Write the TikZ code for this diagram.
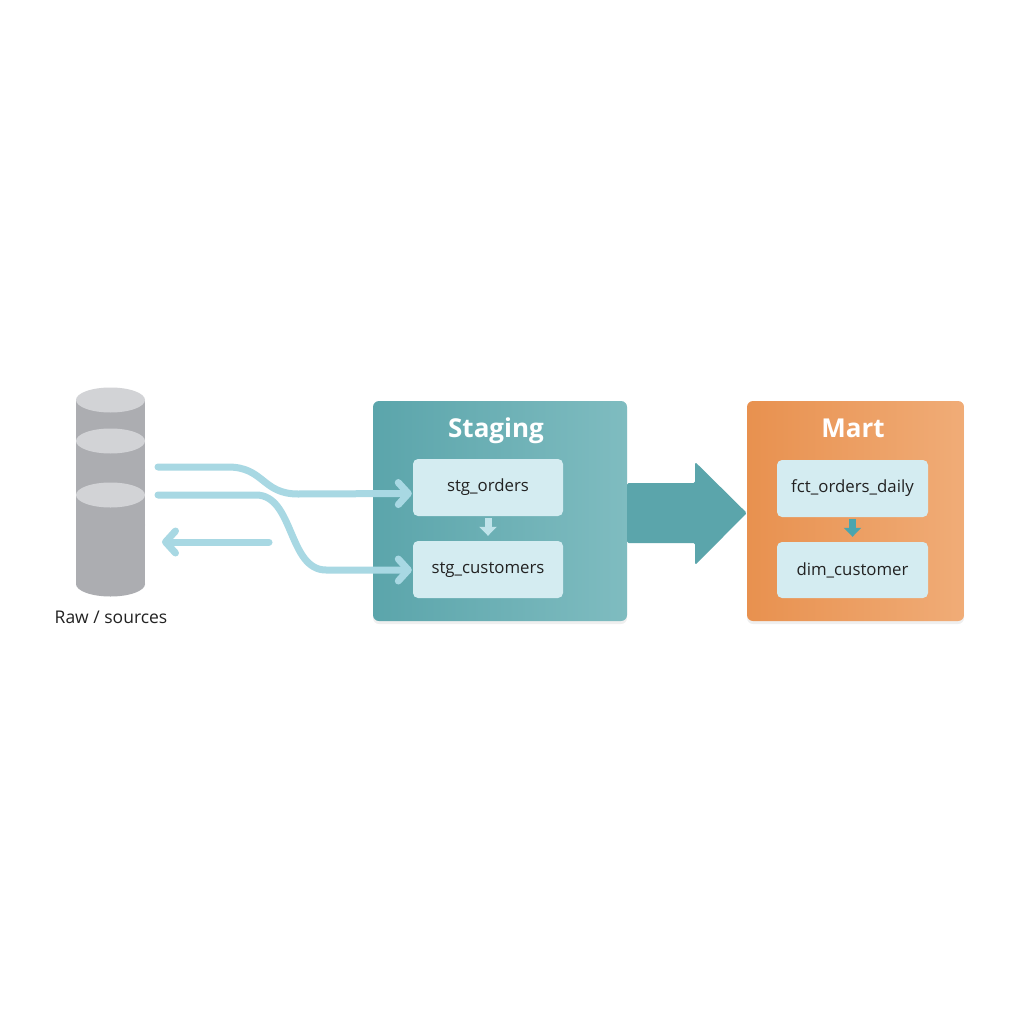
\documentclass[tikz,border=0pt]{standalone}
\usepackage{fontspec}
\setmainfont{Open Sans}
\usetikzlibrary{arrows.meta,calc,shadows}
\definecolor{teal1}{HTML}{5BA5AB}
\definecolor{teal2}{HTML}{7FBCC0}
\definecolor{org1}{HTML}{E8914F}
\definecolor{org2}{HTML}{F0AC77}
\definecolor{inner}{HTML}{D4ECF1}
\definecolor{flow}{HTML}{A8D8E3}
\definecolor{lightarr}{HTML}{BFE3EA}
\definecolor{darkarr}{HTML}{4AA5AE}
\definecolor{cylbody}{HTML}{ACADB1}
\definecolor{cyltop}{HTML}{D2D3D6}
\definecolor{txt}{HTML}{222222}
\tikzset{
  panel/.style={rounded corners=6pt, minimum height=220pt, inner sep=0pt,
    drop shadow={opacity=0.12, shadow xshift=0pt, shadow yshift=-3pt}},
  itembox/.style={rounded corners=5pt, fill=inner, minimum width=150pt, minimum height=57pt, inner sep=0pt, font=\fontsize{16.8}{18}\selectfont, text=txt},
  title/.style={font=\fontsize{26}{30}\selectfont\bfseries, text=white, anchor=base, inner sep=0pt},
  flowline/.style={draw=flow, line width=7pt, line cap=round, line join=round, -{Straight Barb[length=10pt,width=22pt,line cap=round,line join=round]}},
  innerarrow/.style={line width=7pt, -{Triangle[length=9pt,width=17pt]}}
}
\begin{document}
\begin{tikzpicture}[x=1pt,y=-1pt]
\useasboundingbox (0,0) rectangle (1024,1024);
\fill[white] (0,0) rectangle (1024,1024);

% cylinders (back to front)
\foreach \yt/\yb in {400/470, 441/525, 495/584}{
  \fill[cylbody] (76,\yt) rectangle (145,\yb);
  \fill[cylbody] (110.5,\yb) ellipse[x radius=34.5, y radius=12.5];
  \fill[cyltop] (110.5,\yt) ellipse[x radius=34.5, y radius=12.5];
}
\node[font=\fontsize{17.5}{20}\selectfont, text=txt] (rawlabel) at (111,617) {Raw / sources};

% panels
\node[panel, minimum width=254pt, left color=teal1, right color=teal2] (staging) at (500,511) {};
\node[title] (stgtitle) at (496,437.5) {Staging};
\node[itembox] (stgorders) at (488,487.5) {stg\_orders};
\node[itembox] (stgcust) at (488,569.5) {stg\_customers};

\node[panel, minimum width=217pt, left color=org1, right color=org2] (mart) at (855.5,511) {};
\node[title] (marttitle) at (853,437.5) {Mart};
\node[itembox, minimum width=151pt] (fct) at (852.5,488.5) {fct\_orders\_daily};
\node[itembox, minimum width=151pt, minimum height=56pt] (dim) at (852.5,570) {dim\_customer};

% inner arrows
\draw[innerarrow, draw=lightarr, fill=lightarr] ([yshift=-2pt]stgorders.south) -- ([yshift=5pt]stgcust.north);
\draw[innerarrow, draw=darkarr, fill=darkarr] ([yshift=-2pt]fct.south) -- ([yshift=5pt]dim.north);

% big arrow
\fill[teal1, rounded corners=1.5pt]
  ($(staging.east)+(0,-28)$) -- ++(68,0) -- ++(0,-21) -- ($(mart.west)+(0,2)$)
  -- ($(staging.east)+(68,54)$) -- ++(0,-22) -- ($(staging.east)+(0,32)$) -- cycle;

% flow arrows
\coordinate (src1) at (158,467);
\coordinate (src2) at (158,495);
\coordinate (ret) at (269,542);
\coordinate (rawin) at (162,542);
\draw[flowline] (src1) -- (228,467) .. controls (264,467) and (262,494) .. (298,494) -- ($(stgorders.west)+(-1,6)$);
\draw[flowline] (src2) -- (256,495) .. controls (294,495) and (288,570) .. (326,570) -- ($(stgcust.west)+(-1,0.5)$);
\draw[flowline] (ret) -- (rawin);
\end{tikzpicture}
\end{document}
